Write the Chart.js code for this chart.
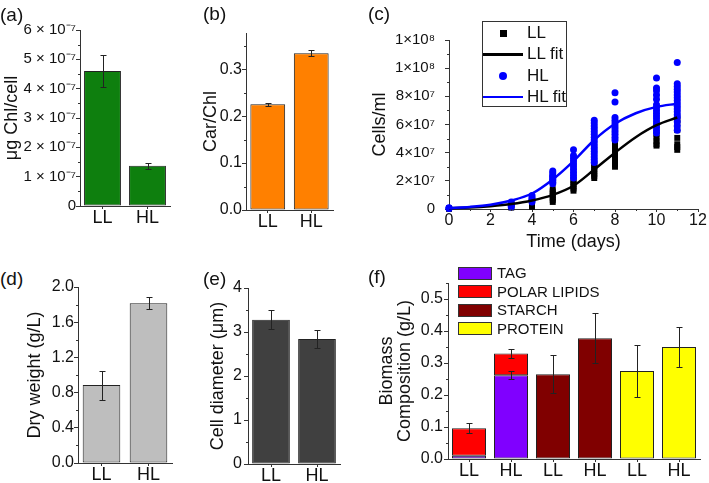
<!DOCTYPE html>
<html><head><meta charset="utf-8">
<script src="https://cdn.jsdelivr.net/npm/chart.js@4/dist/chart.umd.min.js"></script>
<style>
html,body{margin:0;padding:0;background:#fff;}
body{width:709px;height:483px;position:relative;overflow:hidden;font-family:"Liberation Sans",Arial,sans-serif;color:#111;}
canvas{position:absolute;}
.pl{position:absolute;font-size:19px;line-height:19px;}
.leg{position:absolute;}
.lt{position:absolute;white-space:nowrap;}
</style></head><body>
<canvas id="a"></canvas><canvas id="b"></canvas><canvas id="c"></canvas>
<canvas id="d"></canvas><canvas id="e"></canvas><canvas id="f"></canvas>
<div class="pl" style="left:0px;top:5px">(a)</div>
<div class="pl" style="left:203px;top:4px">(b)</div>
<div class="pl" style="left:368px;top:4px">(c)</div>
<div class="pl" style="left:0px;top:269px">(d)</div>
<div class="pl" style="left:203px;top:269px">(e)</div>
<div class="pl" style="left:368px;top:267px">(f)</div>
<div id="legC" class="leg" style="left:482px;top:21px;width:85px;height:86px;border:1px solid #333;box-sizing:border-box;"></div>
<div id="legF" class="leg" style="left:458px;top:262px;width:160px;height:80px;"></div>
<script>
// ---------- DATA ----------
const groups = ['LL', 'HL'];
// (a) chlorophyll per cell
const chlPerCell = [4.6e-7, 1.37e-7];
const chlPerCellErr = [0.55e-7, 0.1e-7];
const chlTicks = [0, 1e-7, 2e-7, 3e-7, 4e-7, 5e-7, 6e-7];
const chlTickLabels = ['0', '1 × 10⁻⁷', '2 × 10⁻⁷', '3 × 10⁻⁷', '4 × 10⁻⁷', '5 × 10⁻⁷', '6 × 10⁻⁷'];
const chlMinor = [0.5e-7, 1.5e-7, 2.5e-7, 3.5e-7, 4.5e-7, 5.5e-7];
// (b) carotenoid / chlorophyll
const carChl = [0.2255, 0.334];
const carChlErr = [0.003, 0.006];
const carTicks = [0, 0.1, 0.2, 0.3];
const carTickLabels = ['0.0', '0.1', '0.2', '0.3'];
const carMinor = [0.05, 0.15, 0.25, 0.35];
// (c) growth curves
const sampleDays = [0, 3, 4, 5, 6, 7, 8, 10, 11];
const llCells = [
  [2e5, 4e5],
  [0.1e7, 0.2e7, 0.3e7, 0.4e7],
  [0.15e7, 0.3e7, 0.45e7, 0.6e7],
  [0.5e7, 0.65e7, 0.8e7, 0.95e7, 1.1e7, 1.25e7, 1.4e7],
  [1.3e7, 1.45e7, 1.6e7, 1.75e7, 1.9e7, 2.05e7],
  [2.2e7, 2.35e7, 2.5e7, 2.65e7, 2.8e7, 2.95e7, 3.1e7, 3.25e7],
  [3.0e7, 3.2e7, 3.4e7, 3.6e7, 3.8e7, 4.0e7, 4.2e7, 4.4e7, 4.6e7, 4.8e7],
  [4.5e7, 4.6e7, 4.85e7, 5.05e7, 5.3e7],
  [4.2e7, 4.4e7, 4.6e7, 5.05e7, 5.6e7, 6.1e7, 6.3e7, 6.5e7]
];
const hlCells = [
  [3e5, 6e5, 9e5],
  [0.15e7, 0.25e7, 0.35e7, 0.5e7],
  [0.5e7, 0.6e7, 0.7e7, 0.8e7, 0.95e7],
  [1.8e7, 1.9e7, 2.0e7, 2.1e7, 2.2e7, 2.3e7, 2.4e7, 2.55e7, 2.7e7],
  [2.2e7, 2.4e7, 2.6e7, 2.8e7, 3.0e7, 3.2e7, 3.4e7, 3.6e7, 3.8e7, 4.2e7],
  [3.3e7, 3.5e7, 3.7e7, 3.9e7, 4.1e7, 4.3e7, 4.5e7, 4.7e7, 4.9e7, 5.1e7, 5.3e7, 5.5e7, 5.7e7, 5.9e7, 6.1e7, 6.3e7],
  [4.9e7, 5.1e7, 5.3e7, 5.5e7, 5.7e7, 5.9e7, 6.1e7, 6.3e7, 6.5e7, 7.6e7, 8.25e7],
  [5.4e7, 5.6e7, 5.8e7, 6.0e7, 6.2e7, 6.4e7, 6.6e7, 6.8e7, 7.0e7, 7.2e7, 7.4e7, 7.8e7, 8.1e7, 8.4e7, 8.6e7, 9.3e7],
  [5.6e7, 5.9e7, 6.2e7, 6.5e7, 6.7e7, 6.9e7, 7.1e7, 7.3e7, 7.5e7, 7.7e7, 7.9e7, 8.1e7, 8.3e7, 8.5e7, 8.7e7, 8.9e7, 1.04e8]
];
const fitDays = [0, 1, 2, 3, 4, 5, 6, 7, 8, 9, 10, 11];
const llFit = [0.05e7, 0.1e7, 0.2e7, 0.35e7, 0.6e7, 1.0e7, 1.65e7, 2.8e7, 4.0e7, 5.1e7, 5.95e7, 6.5e7];
const hlFit = [0.07e7, 0.15e7, 0.3e7, 0.6e7, 1.1e7, 2.1e7, 3.4e7, 4.9e7, 6.05e7, 6.8e7, 7.25e7, 7.48e7];
const cellTicks = [0, 2e7, 4e7, 6e7, 8e7, 1e8, 1.2e8];
const cellTickLabels = ['0', '2×10⁷', '4×10⁷', '6×10⁷', '8×10⁷', '1×10⁸', '1×10⁸'];
const cellMinor = [1e7, 3e7, 5e7, 7e7, 9e7, 1.1e8];
const dayTicks = [0, 2, 4, 6, 8, 10, 12];
const dayTickLabels = ['0', '2', '4', '6', '8', '10', '12'];
const dayMinor = [1, 3, 5, 7, 9, 11];
// (d) dry weight
const dryWeight = [0.886, 1.815];
const dryWeightErr = [0.165, 0.07];
const dryTicks = [0, 0.4, 0.8, 1.2, 1.6, 2.0];
const dryTickLabels = ['0.0', '0.4', '0.8', '1.2', '1.6', '2.0'];
const dryMinor = [0.2, 0.6, 1.0, 1.4, 1.8];
// (e) cell diameter
const cellDiameter = [3.28, 2.84];
const cellDiameterErr = [0.22, 0.2];
const diamTicks = [0, 1, 2, 3, 4];
const diamTickLabels = ['0', '1', '2', '3', '4'];
const diamMinor = [0.5, 1.5, 2.5, 3.5];
// (f) biomass composition
const compCategories = ['LL', 'HL', 'LL', 'HL', 'LL', 'HL'];
const tag = [0.01, 0.262, null, null, null, null];
const tagErr = [null, 0.012, null, null, null, null];
const polarLipids = [0.086, 0.068, null, null, null, null];
const polarLipidsErr = [0.016, 0.014, null, null, null, null];
const starch = [null, null, 0.265, 0.377, null, null];
const starchErr = [null, null, 0.06, 0.078, null, null];
const protein = [null, null, null, null, 0.275, 0.35];
const proteinErr = [null, null, null, null, 0.082, 0.062];
const compTicks = [0, 0.1, 0.2, 0.3, 0.4, 0.5];
const compTickLabels = ['0.0', '0.1', '0.2', '0.3', '0.4', '0.5'];
const compMinor = [0.05, 0.15, 0.25, 0.35, 0.45, 0.55];

// ---------- STYLE / LAYOUT ----------
const FONT = '"Liberation Sans", Arial, sans-serif';
Chart.defaults.font.family = FONT;
Chart.defaults.font.weight = 'normal';
Chart.defaults.color = '#111';
const AXIS = '#333';
const LAYOUT = {
  a: {cx: 3, l: 80, t: 30, r: 170, b: 206, xh: 30, padT: 12, padR: 8},
  b: {cx: 202, l: 246, t: 33, r: 333, b: 210, xh: 30, padT: 12, padR: 8},
  c: {cx: 371, l: 449, t: 33, r: 698, b: 209, xh: 42, padT: 12, padR: 11},
  d: {cx: 26, l: 78, t: 287, r: 172, b: 463, xh: 20, padT: 12, padR: 8},
  e: {cx: 209, l: 248, t: 288, r: 340, b: 464, xh: 19, padT: 12, padR: 8},
  f: {cx: 378, l: 448, t: 283, r: 700, b: 459, xh: 24, padT: 12, padR: 8}
};
const MINOR = {
  a: {y: chlMinor}, b: {y: carMinor}, c: {y: cellMinor, x: dayMinor},
  d: {y: dryMinor}, e: {y: diamMinor}, f: {y: compMinor}
};

const minorTicksPlugin = {
  id: 'minorTicks',
  afterDraw(chart) {
    const spec = MINOR[chart.canvas.id] || {};
    const ctx = chart.ctx;
    ctx.save(); ctx.strokeStyle = AXIS; ctx.lineWidth = 1;
    for (const id in spec) {
      const s = chart.scales[id];
      ctx.beginPath();
      for (const v of spec[id]) {
        const p = Math.round(s.getPixelForValue(v)) + 0.5;
        if (s.isHorizontal()) { ctx.moveTo(p, s.top); ctx.lineTo(p, s.top + 2); }
        else { ctx.moveTo(s.right, p); ctx.lineTo(s.right - 2, p); }
      }
      ctx.stroke();
    }
    ctx.restore();
  }
};
const errorBarsPlugin = {
  id: 'errorBars',
  afterDatasetsDraw(chart) {
    const ctx = chart.ctx;
    ctx.save(); ctx.strokeStyle = '#222'; ctx.lineWidth = 1;
    chart.data.datasets.forEach((ds, i) => {
      if (!ds.errors) return;
      const meta = chart.getDatasetMeta(i);
      const ys = chart.scales[meta.yAxisID];
      meta.data.forEach((el, j) => {
        const e = ds.errors[j];
        if (e == null || ds.data[j] == null) return;
        const topVal = ys.getValueForPixel(el.y);
        const y1 = Math.round(ys.getPixelForValue(topVal + e)) + 0.5;
        const y2 = Math.round(ys.getPixelForValue(topVal - e)) + 0.5;
        const x = Math.round(el.x) + 0.5;
        ctx.beginPath();
        ctx.moveTo(x, y1); ctx.lineTo(x, y2);
        ctx.moveTo(x - 3, y1); ctx.lineTo(x + 3, y1);
        ctx.moveTo(x - 3, y2); ctx.lineTo(x + 3, y2);
        ctx.stroke();
      });
    });
    ctx.restore();
  }
};

function yAxis(min, max, ticks, labels, title, pad, size) {
  return {
    type: 'linear', min, max,
    afterBuildTicks: s => { s.ticks = ticks.map(v => ({value: v})); },
    ticks: {callback: (v, i) => labels[i], font: {size: size || 16, weight: 'normal'}, padding: pad, color: '#111', autoSkip: false},
    grid: {display: true, drawOnChartArea: false, drawTicks: true, tickLength: 4, tickColor: AXIS, lineWidth: 1},
    border: {display: true, color: AXIS, width: 1},
    title: {display: true, text: title, font: {size: 18, lineHeight: 1, weight: 'normal'}, padding: 0, color: '#111'}
  };
}
function catAxis() {
  return {
    type: 'category', offset: true,
    ticks: {font: {size: 18, lineHeight: 1, weight: 'normal'}, padding: 0, maxRotation: 0, autoSkip: false, color: '#111'},
    grid: {display: true, drawOnChartArea: false, drawTicks: true, tickLength: 3, tickColor: AXIS, offset: false},
    border: {display: true, color: AXIS, width: 1}
  };
}
function build(id, cfg) {
  const L = LAYOUT[id];
  const cv = document.getElementById(id);
  const x0 = L.cx, y0 = L.t - L.padT;
  const w = L.r + L.padR - x0, h = L.b + L.xh - y0;
  cv.width = w; cv.height = h;
  Object.assign(cv.style, {left: x0 + 'px', top: y0 + 'px', width: w + 'px', height: h + 'px'});
  cfg.options.layout = {padding: {left: 0, top: L.padT, right: L.padR, bottom: 0}};
  cfg.options.scales.x.afterFit = s => { s.height = L.xh; };
  cfg.options.scales.y.afterFit = s => { s.width = L.l - x0; };
  cfg.options.responsive = false;
  cfg.options.animation = false;
  cfg.options.devicePixelRatio = 1;
  cfg.options.plugins = {legend: {display: false}, tooltip: {enabled: false}};
  cfg.plugins = [minorTicksPlugin, errorBarsPlugin];
  return new Chart(cv, cfg);
}
function simpleBar(id, values, errors, color, yScale, barPct) {
  build(id, {
    type: 'bar',
    data: {labels: groups, datasets: [{data: values, errors, backgroundColor: color, borderColor: '#222', borderWidth: 1, borderSkipped: false, barPercentage: barPct, categoryPercentage: 1}]},
    options: {scales: {x: catAxis(), y: yScale}}
  });
}

simpleBar('a', chlPerCell, chlPerCellErr, '#0E7F0E', yAxis(0, 6e-7, chlTicks, chlTickLabels, 'μg Chl/cell', 0, 15), 0.82);
simpleBar('b', carChl, carChlErr, '#FF8000', yAxis(0, 0.377, carTicks, carTickLabels, 'Car/Chl', 0), 0.8);
simpleBar('d', dryWeight, dryWeightErr, '#BEBEBE', yAxis(0, 2.0, dryTicks, dryTickLabels, 'Dry weight (g/L)', 0), 0.8);
simpleBar('e', cellDiameter, cellDiameterErr, '#404040', yAxis(0, 4, diamTicks, diamTickLabels, 'Cell diameter (μm)', 2), 0.82);

// (c)
const toPts = (days, groupsArr) => days.flatMap((d, i) => groupsArr[i].map(v => ({x: d, y: v})));
const xC = {
  type: 'linear', min: 0, max: 12,
  afterBuildTicks: s => { s.ticks = dayTicks.map(v => ({value: v})); },
  ticks: {callback: (v, i) => dayTickLabels[i], font: {size: 16, lineHeight: 1, weight: 'normal'}, padding: 1, maxRotation: 0, autoSkip: false, color: '#111'},
  grid: {display: true, drawOnChartArea: false, drawTicks: true, tickLength: 3, tickColor: AXIS},
  border: {display: true, color: AXIS, width: 1},
  title: {display: true, text: 'Time (days)', font: {size: 18, lineHeight: 1, weight: 'normal'}, padding: 0, color: '#111'}
};
build('c', {
  type: 'scatter',
  data: {datasets: [
    {label: 'HL fit', data: fitDays.map((d, i) => ({x: d, y: hlFit[i]})), showLine: true, borderColor: '#0000FF', borderWidth: 2.5, pointRadius: 0, cubicInterpolationMode: 'monotone', order: 0, clip: false},
    {label: 'LL fit', data: fitDays.map((d, i) => ({x: d, y: llFit[i]})), showLine: true, borderColor: '#000', borderWidth: 2.5, pointRadius: 0, cubicInterpolationMode: 'monotone', order: 0, clip: false},
    {label: 'HL', data: toPts(sampleDays, hlCells), pointStyle: 'circle', pointRadius: 3.5, backgroundColor: '#0000FF', borderWidth: 0, order: 1, clip: false},
    {label: 'LL', data: toPts(sampleDays, llCells), pointStyle: 'rect', pointRadius: 4.2, backgroundColor: '#000', borderWidth: 0, order: 2, clip: false}
  ]},
  options: {scales: {x: xC, y: yAxis(0, 1.2e8, cellTicks, cellTickLabels, 'Cells/ml', 10, 15)}}
});

// (f)
const yF = yAxis(0, 0.55, compTicks, compTickLabels, ['Biomass', 'Composition (g/L)'], 1);
yF.stacked = true;
const xF = catAxis(); xF.stacked = true;
const barF = (label, data, errors, color) => ({label, data, errors, backgroundColor: color, borderColor: '#222', borderWidth: 1, borderSkipped: false, barPercentage: 0.81, categoryPercentage: 1});
build('f', {
  type: 'bar',
  data: {labels: compCategories, datasets: [
    barF('TAG', tag, tagErr, '#8000FF'),
    barF('POLAR LIPIDS', polarLipids, polarLipidsErr, '#FF0000'),
    barF('STARCH', starch, starchErr, '#800000'),
    barF('PROTEIN', protein, proteinErr, '#FFFF00')
  ]},
  options: {scales: {x: xF, y: yF}}
});

// ---------- legends (HTML) ----------
const legC = document.getElementById('legC');
const legCItems = [
  {text: 'LL', kind: 'rect', color: '#000'},
  {text: 'LL fit', kind: 'line', color: '#000'},
  {text: 'HL', kind: 'circle', color: '#0000FF'},
  {text: 'HL fit', kind: 'line', color: '#0000FF'}
];
const legCRows = [11, 32.3, 53.7, 75];
legCItems.forEach((it, i) => {
  const cy = legCRows[i];
  const sym = document.createElement('div');
  sym.style.position = 'absolute';
  if (it.kind === 'line') {
    Object.assign(sym.style, {left: '0px', width: '40px', top: (cy - 1.25) + 'px', height: '2.5px', background: it.color});
  } else if (it.kind === 'rect') {
    Object.assign(sym.style, {left: '16.5px', width: '7px', top: (cy - 3.5) + 'px', height: '7px', background: it.color});
  } else {
    Object.assign(sym.style, {left: '16px', width: '8px', top: (cy - 4) + 'px', height: '8px', background: it.color, borderRadius: '50%'});
  }
  legC.appendChild(sym);
  const t = document.createElement('div');
  t.className = 'lt';
  Object.assign(t.style, {left: '44px', top: (cy - 10) + 'px', fontSize: '17px', lineHeight: '20px'});
  t.textContent = it.text;
  legC.appendChild(t);
});
const legF = document.getElementById('legF');
const legFItems = [['TAG', '#8000FF'], ['POLAR LIPIDS', '#FF0000'], ['STARCH', '#800000'], ['PROTEIN', '#FFFF00']];
const legFRows = [11, 29.5, 48, 66.5];
legFItems.forEach(([text, color], i) => {
  const cy = legFRows[i];
  const sw = document.createElement('div');
  Object.assign(sw.style, {position: 'absolute', left: '0px', top: (cy - 6.5) + 'px', width: '34px', height: '13px', background: color, border: '1px solid #333', boxSizing: 'border-box'});
  legF.appendChild(sw);
  const t = document.createElement('div');
  t.className = 'lt';
  Object.assign(t.style, {left: '39px', top: (cy - 9) + 'px', fontSize: '15px', lineHeight: '18px'});
  t.textContent = text;
  legF.appendChild(t);
});
</script>
</body></html>
